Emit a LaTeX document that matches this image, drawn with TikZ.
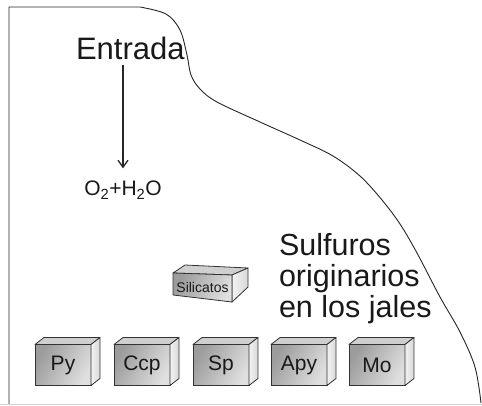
\documentclass[tikz,border=0pt]{standalone}
\usepackage{fontspec}
\setmainfont{Liberation Sans}
\usetikzlibrary{arrows.meta}
\tikzset{
  txt/.style={inner sep=0pt, outer sep=0pt, text=black!90},
  cubefront/.style={draw=black!80, line width=0.8pt, minimum width=56pt, minimum height=41pt,
    inner sep=0pt, outer sep=0pt, shading=axis, left color=gray!78, right color=gray!25, shading angle=60,
    font=\fontsize{21}{24}\selectfont, text=black!90},
  cubetop/.style={draw=black!80, line width=0.8pt, line join=round, fill=gray!38},
  cubeside/.style={draw=black!80, line width=0.8pt, line join=round, left color=gray!10, right color=gray!30},
  outline/.style={draw=black!85, line width=0.9pt},
  arrowline/.style={draw=black!85, line width=1.3pt, -{Straight Barb[length=7pt,width=10pt,line width=1.3pt]}}
}
\newcommand{\mycube}[4]{%
  \node[cubefront] (#1) at (#2,#3) {#4};
  \path[cubetop] (#1.north west) -- ([shift={(9pt,7pt)}]#1.north west) -- ([shift={(9pt,7pt)}]#1.north east) -- (#1.north east) -- cycle;
  \path[cubeside] (#1.north east) -- ([shift={(9pt,7pt)}]#1.north east) -- ([shift={(9pt,7pt)}]#1.south east) -- (#1.south east) -- cycle;
}
\begin{document}
\begin{tikzpicture}[x=1pt,y=-1pt]
\useasboundingbox[fill=white] (0,0) rectangle (482,406);
% outline
\draw[outline] (9,404) -- (9,7) -- (140,7)
  plot[smooth, tension=0.55] coordinates {(140,7) (166,14) (180,30) (187,55) (191,75) (200,89) (217,102) (260,122) (300,140) (333,156) (360,176) (382,200) (400,224) (417,253) (440,297) (460,332) (475,367) (481,403)};
\draw[gray!35, line width=0.8pt] (0,404) -- (482,404);
% texts
\node[txt, anchor=base west, font=\fontsize{31}{36}\selectfont] (entrada) at (76,60) {Entrada};
\node[txt, anchor=base, font=\fontsize{21}{24}\selectfont] (o2) at (123,196) {O\textsubscript{2}+H\textsubscript{2}O};
\draw[arrowline, shorten <=5pt, shorten >=13pt] (o2.north |- entrada.south) -- (o2.north);
\node[txt, anchor=base west, align=left, font=\fontsize{30.5}{31}\selectfont] (sulf) at (279,317) {Sulfuros\\originarios\\en los jales};
% Silicatos block
\path[cubetop] (173,273) -- (185,265) -- (248,268) -- (232,275) -- cycle;
\path[cubeside] (232,275) -- (248,268) -- (248,287) -- (232,302) -- cycle;
\path[draw=black!80, line width=0.8pt, line join=round, shading=axis, left color=gray!78, right color=gray!25, shading angle=60] (173,273) -- (232,275) -- (232,302) -- (173,295) -- cycle;
\node[txt, font=\fontsize{14}{16}\selectfont] (sil) at (202.5,287) {Silicatos};
% sulfide cubes
\mycube{py}{63}{365}{Py}
\mycube{ccp}{142}{365}{Ccp}
\mycube{sp}{221}{365}{Sp}
\mycube{apy}{299}{365}{Apy}
\mycube{mo}{377}{365}{Mo}
\end{tikzpicture}
\end{document}
